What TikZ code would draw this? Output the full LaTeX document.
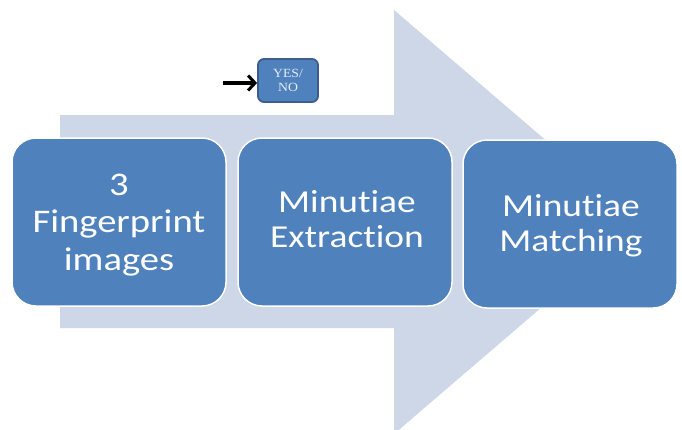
\documentclass[tikz,border=0pt]{standalone}
\usepackage{fontspec}
\setmainfont{Carlito}[FakeStretch=1.17, Ligatures=NoCommon]
\newfontfamily\serifsmall{Liberation Serif}[FakeStretch=1.1]
\usetikzlibrary{arrows.meta}
\definecolor{boxblue}{HTML}{4F81BD}
\definecolor{boxedge}{HTML}{3A5F8E}
\definecolor{arrowbg}{HTML}{CED7E7}
\definecolor{yntext}{HTML}{E4ECF7}
\tikzset{
  stepbox/.style={draw=white, line width=1.5pt, fill=boxblue, rounded corners=24pt,
    minimum width=214pt, minimum height=168pt, inner sep=0pt},
  steptext/.style={text=white, align=center, anchor=base, inner sep=0pt},
  yesno/.style={draw=boxedge, line width=1.8pt, fill=boxblue, rounded corners=6pt,
    minimum width=60pt, minimum height=43pt, text=yntext, align=center,
    font=\serifsmall\fontsize{12.5}{13.5}\selectfont, inner sep=0pt},
  pointer/.style={line width=3.5pt, -{Straight Barb[length=7pt,width=15pt,line width=3pt]}}
}
\begin{document}
\begin{tikzpicture}[x=1pt,y=-1pt]
\clip (0,0) rectangle (682,429);
\fill[white] (0,0) rectangle (682,429);
% big background arrow
\fill[arrowbg] (60,115) -- (394,115) -- (394,10) -- (641,222) -- (394,434) -- (394,328) -- (60,328) -- cycle;
% process boxes
\node[stepbox] (b1) at (119,222) {};
\node[stepbox] (b2) at (345,222) {};
\node[stepbox] (b3) at (570,224) {};
\node[steptext, font=\fontsize{33}{37.5}\selectfont] (t1) at (119,270) {3\\Fingerprint\\images};
\node[steptext, font=\fontsize{32}{35}\selectfont] (t2) at (347,247) {Minutiae\\Extraction};
\node[steptext, font=\fontsize{32}{35}\selectfont] (t3) at (571,251) {Minutiae\\Matching};
% decision box
\node[yesno] (yn) at (288,80.5) {YES/\\NO};
\coordinate (pstart) at (223,83);
\draw[pointer] (pstart) -- (yn.west |- pstart);
\end{tikzpicture}
\end{document}
